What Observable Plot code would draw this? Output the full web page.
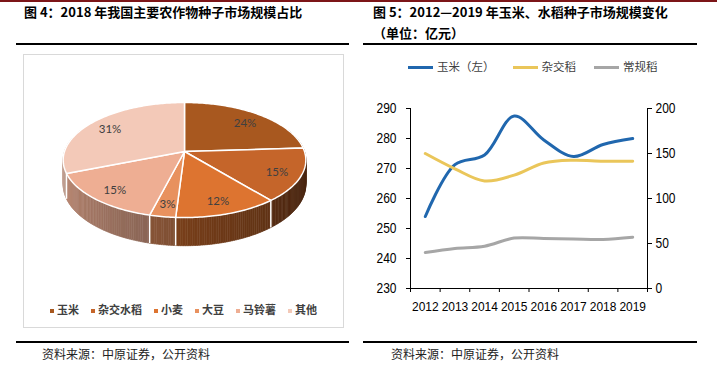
<!DOCTYPE html>
<html><head><meta charset="utf-8">
<script src="https://cdn.jsdelivr.net/npm/d3@7"></script>
<script src="https://cdn.jsdelivr.net/npm/@observablehq/plot@0.6"></script>
<style>
body{margin:0;background:#fff;}
#page{position:relative;width:722px;height:375px;overflow:hidden;background:#fff;font-family:"Noto Sans CJK SC",sans-serif;}
.abs{position:absolute;}
.title{font-size:13px;font-weight:bold;color:#000;white-space:nowrap;line-height:16px;}
.src{font-size:12px;color:#222;white-space:nowrap;line-height:14px;}
.rule{background:#000;height:2px;}
.pleg{display:flex;justify-content:center;align-items:center;gap:12px;font-size:11px;font-weight:bold;color:#404040;}
.pleg span.sw{display:inline-block;width:4px;height:4px;margin-right:3px;vertical-align:middle;}
.lleg{display:flex;align-items:center;gap:18px;font-size:11.5px;color:#404040;white-space:nowrap;}
.lleg .ln{display:inline-block;width:25px;height:3px;margin-right:4px;vertical-align:middle;}
</style></head><body>
<div id="page"></div>
<script>
// ---------- data ----------
const pieCategories = ["玉米", "杂交水稻", "小麦", "大豆", "马铃薯", "其他"];
const pieShares = [24, 15, 12, 3, 15, 31];
const pieLabels = ["24%", "15%", "12%", "3%", "15%", "31%"];
const pieColors = ["#A8581F", "#C5652A", "#DD7430", "#E8915E", "#EEAE93", "#F3C9B8"];

const years = ["2012", "2013", "2014", "2015", "2016", "2017", "2018", "2019"];
const cornValues = [254, 271.3, 274.5, 287.5, 279.5, 274, 278, 280];
const hybridRiceValues = [150, 133, 119.5, 126, 139.5, 142.5, 141.5, 141.5];
const conventionalRiceValues = [40, 44.5, 47, 56, 55.5, 55, 54.5, 57];
const leftTicks = [230, 240, 250, 260, 270, 280, 290];
const rightTicks = [0, 50, 100, 150, 200];
const seriesNames = ["玉米（左）", "杂交稻", "常规稻"];
const seriesColors = ["#2067AE", "#EAC65A", "#A6A6A6"];

const titleLeft = "图 4：2018 年我国主要农作物种子市场规模占比";
const titleRight1 = "图 5：2012—2019 年玉米、水稻种子市场规模变化";
const titleRight2 = "（单位：亿元）";
const sourceText = "资料来源：中原证券，公开资料";

// ---------- page frame ----------
const page = document.getElementById("page");
function el(tag, cls, css, html) {
  const e = document.createElement(tag);
  if (cls) e.className = cls;
  Object.assign(e.style, css || {});
  if (html != null) e.textContent = html;
  page.appendChild(e);
  return e;
}
el("div", "abs", {left:"0px", top:"0px", width:"717px", height:"2px", background:"#7C1518"});
el("div", "abs title", {left:"24px", top:"4px"}, titleLeft);
el("div", "abs title", {left:"373px", top:"4px"}, titleRight1);
el("div", "abs title", {left:"373px", top:"25px"}, titleRight2);
el("div", "abs rule", {left:"16px", top:"43px", width:"333px"});
el("div", "abs rule", {left:"363px", top:"43px", width:"334px"});
el("div", "abs rule", {left:"16px", top:"341px", width:"333px"});
el("div", "abs rule", {left:"363px", top:"341px", width:"334px"});
el("div", "abs src", {left:"42px", top:"347px"}, sourceText);
el("div", "abs src", {left:"391px", top:"347px"}, sourceText);
el("div", "abs", {left:"23px", top:"54px", width:"321px", height:"274px", border:"1px solid #D9D9D9", boxSizing:"border-box"});

// ---------- 3D pie ----------
const sinT = 0.469, cosT = Math.sqrt(1 - sinT * sinT), D = 5.97, H = 0.2;
function proj(phi, rho, drop) {
  const a = rho * Math.sin(phi), b = -rho * Math.cos(phi);
  const s = D / (D - b * cosT);
  return [a * s, (b * sinT + drop) * s];
}
function shade(phi) {
  const deg = phi * 180 / Math.PI;
  const u = Math.max(0, Math.min(1, (deg - 90) / 180));
  return 0.36 + 0.5 * Math.pow(u, 1.5);
}
const arcs = d3.pie().sort(null).value(d => d)(pieShares);
const tops = [], strips = [], seps = [], labels = [];
arcs.forEach((arc, i) => {
  const span = arc.endAngle - arc.startAngle;
  const n = Math.max(3, Math.ceil(span / (Math.PI / 180)));
  const angles = d3.range(n + 1).map(k => arc.startAngle + span * k / n);
  tops.push({key: "t" + i, x: 0, y: 0, color: pieColors[i]});
  angles.forEach(phi => { const p = proj(phi, 1, 0); tops.push({key: "t" + i, x: p[0], y: p[1], color: pieColors[i]}); });
  for (let k = 0; k < n; k++) {
    const p0 = angles[k], p1 = angles[k + 1], pm = (p0 + p1) / 2;
    const depth = -Math.cos(pm);
    if (depth < -0.4) continue;
    const f = shade(pm), c = d3.rgb(pieColors[i]);
    const col = d3.rgb(c.r * f, c.g * f, c.b * f).formatHex();
    const key = "s" + i + "_" + k;
    [proj(p0, 1, 0), proj(p1, 1, 0), proj(p1, 1, H), proj(p0, 1, H)]
      .forEach(p => strips.push({key, x: p[0], y: p[1], color: col, depth}));
  }
  if (-Math.cos(arc.startAngle) > 0) {
    const a = proj(arc.startAngle, 1, 0), b = proj(arc.startAngle, 1, H);
    seps.push({x1: a[0], y1: a[1], x2: b[0], y2: b[1]});
  }
  const m = proj((arc.startAngle + arc.endAngle) / 2, 0.8, 0);
  labels.push({x: m[0], y: m[1], text: pieLabels[i]});
});
strips.sort((a, b) => a.depth - b.depth);

const pieSvg = Plot.plot({
  width: 320, height: 230, margin: 0,
  style: {background: "transparent", overflow: "visible"},
  x: {domain: [-160 / 120, 160 / 120], range: [0, 320], axis: null},
  y: {domain: [-96 / 120, 134 / 120], range: [0, 230], axis: null},
  color: {type: "identity"},
  marks: [
    Plot.line(strips, {x: "x", y: "y", z: "key", fill: "color", stroke: "color", strokeWidth: 0.6, curve: "linear-closed"}),
    Plot.link(seps, {x1: "x1", y1: "y1", x2: "x2", y2: "y2", stroke: "#fff", strokeWidth: 1.5}),
    Plot.line(tops, {x: "x", y: "y", z: "key", fill: "color", stroke: "#fff", strokeWidth: 1.5, strokeLinejoin: "round", curve: "linear-closed"}),
    Plot.text(labels, {x: "x", y: "y", text: "text", dy: 2, fill: "#404040", fontSize: 11.5, fontFamily: "Lato, 'Liberation Sans', sans-serif"})
  ]
});
const pieWrap = el("div", "abs", {left: "24px", top: "55px"});
pieWrap.appendChild(pieSvg);

const pleg = el("div", "abs pleg", {left: "23px", top: "302px", width: "321px", height: "14px"});
pieCategories.forEach((c, i) => {
  const it = document.createElement("span");
  const sw = document.createElement("span");
  sw.className = "sw"; sw.style.background = pieColors[i];
  it.appendChild(sw);
  it.appendChild(document.createTextNode(c));
  pleg.appendChild(it);
});

// ---------- dual-axis line chart ----------
const numFont = "'Liberation Sans', Arial, sans-serif";
const xs = years.map((d, i) => i + 0.5);
const corn = years.map((d, i) => ({x: xs[i], v: cornValues[i]}));
const hybrid = years.map((d, i) => ({x: xs[i], v: hybridRiceValues[i]}));
const conv = years.map((d, i) => ({x: xs[i], v: conventionalRiceValues[i]}));
const frame = {width: 340, height: 240, marginLeft: 49, marginRight: 54, marginTop: 18, marginBottom: 42};

const leftChart = Plot.plot({
  ...frame,
  style: {background: "transparent", fontSize: "15px", fontFamily: numFont, color: "#000", overflow: "visible"},
  x: {domain: [0, years.length], ticks: d3.range(years.length + 1), tickFormat: () => "", tickSize: 4, line: true, label: null},
  y: {domain: [230, 290], ticks: leftTicks, tickSize: 4, tickPadding: 10, line: true, label: null},
  marks: [
    Plot.line(corn, {x: "x", y: "v", stroke: seriesColors[0], strokeWidth: 3, curve: "catmull-rom"}),
    Plot.text(years, {x: (d, i) => xs[i], frameAnchor: "bottom", dy: 22, text: d => d, fontSize: 13, fontFamily: numFont, fill: "#000", className: "yearlab"})
  ]
});
const rightChart = Plot.plot({
  ...frame,
  style: {background: "transparent", fontSize: "15px", fontFamily: numFont, color: "#000", overflow: "visible"},
  x: {domain: [0, years.length], axis: null},
  y: {domain: [0, 200], ticks: rightTicks, axis: "right", tickSize: 4, tickPadding: 4, line: true, label: null},
  marks: [
    Plot.line(hybrid, {x: "x", y: "v", stroke: seriesColors[1], strokeWidth: 3, curve: "catmull-rom"}),
    Plot.line(conv, {x: "x", y: "v", stroke: seriesColors[2], strokeWidth: 3, curve: "catmull-rom"})
  ]
});
const w1 = el("div", "abs", {left: "361px", top: "90px"}); w1.appendChild(leftChart);
const w2 = el("div", "abs", {left: "361px", top: "90px"}); w2.appendChild(rightChart);

// condense numeric labels (narrow face, like Arial Narrow)
[leftChart, rightChart].forEach(svg => {
  svg.querySelectorAll("text").forEach(t => {
    if (!t.textContent) return;
    const isYear = t.closest(".yearlab") != null;
    const len = t.getComputedTextLength();
    if (len > 0) {
      t.setAttribute("textLength", (len * (isYear ? 0.92 : 0.8)).toFixed(2));
      t.setAttribute("lengthAdjust", "spacingAndGlyphs");
    }
  });
});

const lleg = el("div", "abs lleg", {left: "408px", top: "58px", height: "16px"});
seriesNames.forEach((s, i) => {
  const it = document.createElement("span");
  const ln = document.createElement("span");
  ln.className = "ln"; ln.style.background = seriesColors[i];
  it.appendChild(ln);
  it.appendChild(document.createTextNode(s));
  lleg.appendChild(it);
});
</script>
</body></html>
